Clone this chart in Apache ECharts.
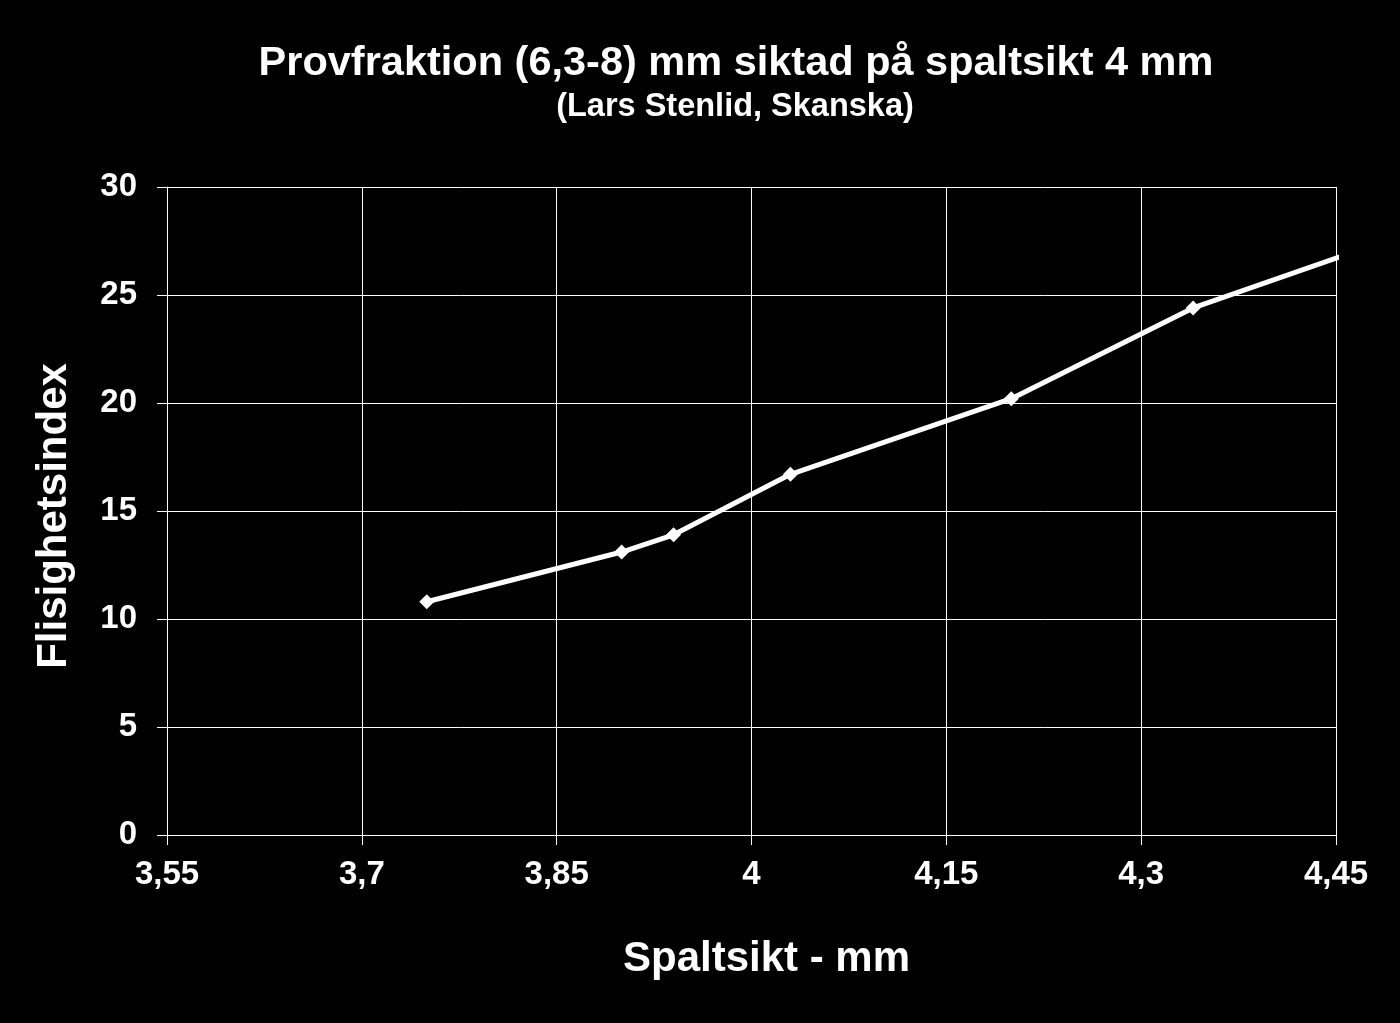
<!DOCTYPE html>
<html>
<head>
<meta charset="utf-8">
<script src="https://cdn.jsdelivr.net/npm/echarts@6/dist/echarts.min.js"></script>
<style>
html,body{margin:0;padding:0;background:#000;}
#chart{width:1400px;height:1023px;}
</style>
</head>
<body>
<div id="chart"></div>
<script>
const titleText = 'Provfraktion (6,3-8) mm siktad på spaltsikt 4 mm';
const subtitleText = '(Lars Stenlid, Skanska)';
const xName = 'Spaltsikt - mm';
const yName = 'Flisighetsindex';
const spaltsikt = [3.75, 3.90, 3.94, 4.03, 4.20, 4.34, 4.50];
const flisighet = [10.8, 13.1, 13.9, 16.7, 20.2, 24.4, 27.75];

const fmt = v => Number(v.toFixed(2)).toString().replace('.', ',');
const font = '"Liberation Sans", Arial, sans-serif';

const chart = echarts.init(document.getElementById('chart'));
chart.setOption({
  backgroundColor: '#000',
  animation: false,
  title: [
    {text: titleText, left: 731, top: 38, textAlign: 'center',
     textStyle: {color: '#fff', fontSize: 41.5, fontWeight: 'bold', fontFamily: font}},
    {text: subtitleText, left: 730, top: 86, textAlign: 'center',
     textStyle: {color: '#fff', fontSize: 32.5, fontWeight: 'bold', fontFamily: font}}
  ],
  grid: {left: 167, right: 64, top: 187, bottom: 188, containLabel: false},
  xAxis: {
    type: 'value', min: 3.55, max: 4.45, interval: 0.15,
    name: xName, nameLocation: 'middle', nameGap: 103,
    nameTextStyle: {color: '#fff', fontSize: 42, fontWeight: 'bold', fontFamily: font, padding: [0, 0, 0, 30]},
    axisLine: {show: true, lineStyle: {color: '#fff', width: 1}},
    axisTick: {show: true, inside: false, length: 10, lineStyle: {color: '#fff', width: 1}},
    axisLabel: {color: '#fff', fontSize: 33, fontWeight: 'bold', fontFamily: font, margin: 23, formatter: fmt},
    splitLine: {show: true, lineStyle: {color: '#fff', width: 1}}
  },
  yAxis: {
    type: 'value', min: 0, max: 30, interval: 5,
    name: yName, nameLocation: 'middle', nameGap: 92, nameRotate: 90,
    nameTextStyle: {color: '#fff', fontSize: 42, fontWeight: 'bold', fontFamily: font, padding: [0, 10, 0, 0]},
    axisLine: {show: true, lineStyle: {color: '#fff', width: 1}},
    axisTick: {show: true, inside: false, length: 10, lineStyle: {color: '#fff', width: 1}},
    axisLabel: {color: '#fff', fontSize: 33, fontWeight: 'bold', fontFamily: font, margin: 30, formatter: fmt},
    splitLine: {show: true, lineStyle: {color: '#fff', width: 1}}
  },
  series: [{
    type: 'line',
    data: spaltsikt.map((x, i) => [x, flisighet[i]]),
    clip: true,
    symbol: 'diamond', symbolSize: 15, showSymbol: true,
    itemStyle: {color: '#fff'},
    lineStyle: {color: '#fff', width: 5}
  }]
});
</script>
</body>
</html>
